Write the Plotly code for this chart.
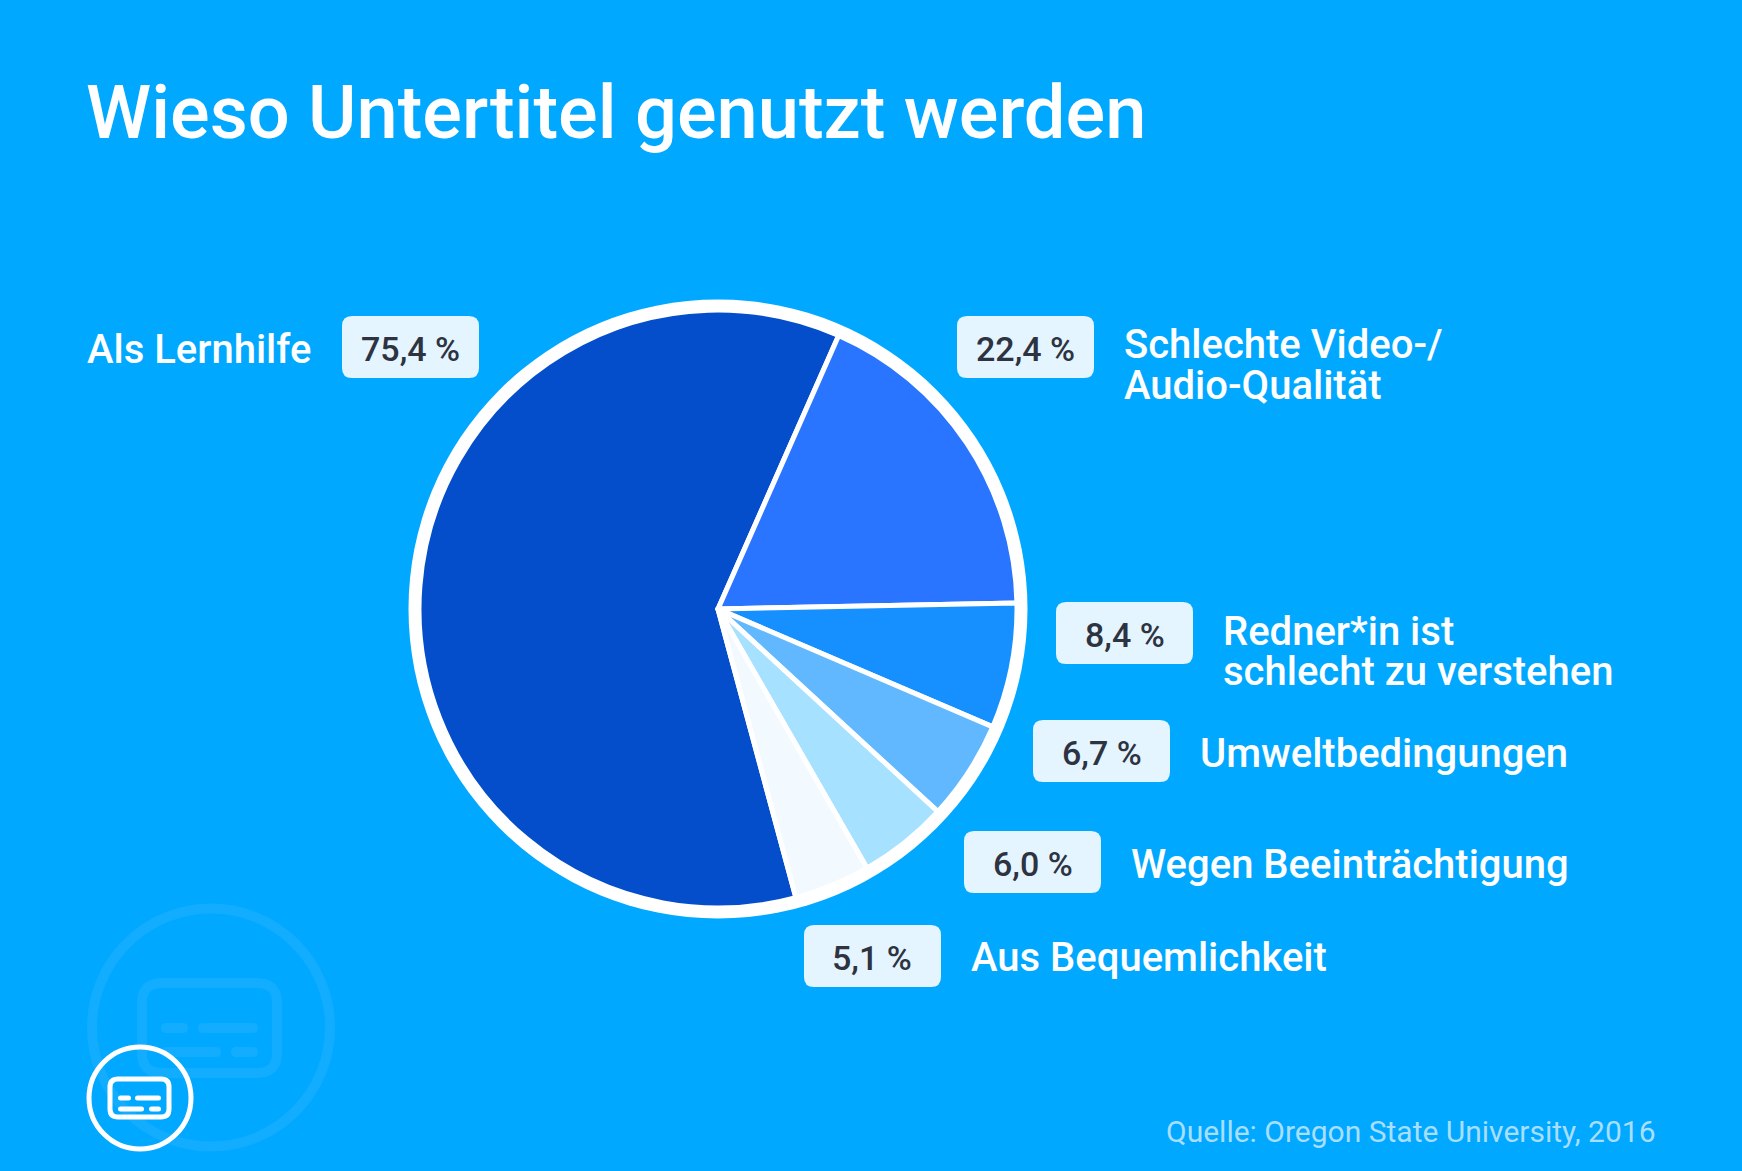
import plotly.graph_objects as go

W = 1742
H = 1171

# data
categories = [
    "Als Lernhilfe",
    "Schlechte Video-/ Audio-Qualität",
    "Redner*in ist schlecht zu verstehen",
    "Umweltbedingungen",
    "Wegen Beeinträchtigung",
    "Aus Bequemlichkeit",
]
values = [75.4, 22.4, 8.4, 6.7, 6.0, 5.1]
value_labels = ["75,4 %", "22,4 %", "8,4 %", "6,7 %", "6,0 %", "5,1 %"]
label_lines = [
    ["Als Lernhilfe"],
    ["Schlechte Video-/", "Audio-Qualität"],
    ["Redner*in ist", "schlecht zu verstehen"],
    ["Umweltbedingungen"],
    ["Wegen Beeinträchtigung"],
    ["Aus Bequemlichkeit"],
]
slice_colors = ["#044ECB", "#2975FF", "#1790FF", "#62B8FF", "#A6E1FF", "#F2FAFF"]

title = "Wieso Untertitel genutzt werden"
source = "Quelle: Oregon State University, 2016"

BG = "#00A8FF"
BOX = "#E5F5FF"
DARK = "#2D3340"
GHOST = "#12ADFF"

# layout in page pixels
CX, CY = 718, 609
R_RING = 309.5
R_PIE = 299
BOX_W, BOX_H = 137, 62
box_left = [342, 957, 1056, 1033, 964, 804]
box_top = [316, 316, 602, 720, 831, 925]
label_left = [86, 1123, 1222, 1199, 1130, 970]
label_y = [[349.5], [345, 385.5], [631.5, 671.5], [753.5], [864.5], [957]]


def px(x):
    return x / W


def py(y):
    return 1 - y / H


def rounded_path(x0, y0, x1, y1, r):
    pts = [
        f"M {px(x0 + r)} {py(y0)}",
        f"L {px(x1 - r)} {py(y0)}",
        f"Q {px(x1)} {py(y0)} {px(x1)} {py(y0 + r)}",
        f"L {px(x1)} {py(y1 - r)}",
        f"Q {px(x1)} {py(y1)} {px(x1 - r)} {py(y1)}",
        f"L {px(x0 + r)} {py(y1)}",
        f"Q {px(x0)} {py(y1)} {px(x0)} {py(y1 - r)}",
        f"L {px(x0)} {py(y0 + r)}",
        f"Q {px(x0)} {py(y0)} {px(x0 + r)} {py(y0)}",
        "Z",
    ]
    return " ".join(pts)


def rounded_box(x0, y0, x1, y1, r, fill=None, line=None, width=0):
    return dict(
        type="path",
        xref="paper",
        yref="paper",
        path=rounded_path(x0, y0, x1, y1, r),
        fillcolor=fill if fill else "rgba(0,0,0,0)",
        line=dict(color=line if line else "rgba(0,0,0,0)", width=width),
        layer="below",
    )


def circle(cx, cy, r, fill=None, line=None, width=0):
    return dict(
        type="circle",
        xref="paper",
        yref="paper",
        x0=px(cx - r),
        x1=px(cx + r),
        y0=py(cy + r),
        y1=py(cy - r),
        fillcolor=fill if fill else "rgba(0,0,0,0)",
        line=dict(color=line if line else "rgba(0,0,0,0)", width=width),
        layer="below",
    )


def caption_icon(cx, cy, r, ring, card, card_r, rows, dash, color):
    # ring, rounded card and the two rows of caption dashes
    out = [
        circle(cx, cy, r - ring / 2, line=color, width=ring),
        rounded_box(*card, card_r, line=color, width=ring),
    ]
    for y, x0, x1 in rows:
        out.append(
            rounded_box(x0, y - dash / 2, x1, y + dash / 2, dash / 2, fill=color)
        )
    return out


shapes = []
shapes += caption_icon(
    211,
    1027.5,
    124,
    10,
    (142, 983, 277, 1073),
    20,
    [
        (1028, 161, 188),
        (1028, 198, 258),
        (1052, 161, 221),
        (1052, 231, 258),
    ],
    10,
    GHOST,
)
shapes += caption_icon(
    140,
    1098,
    53.5,
    5,
    (110, 1079, 169, 1117),
    8,
    [
        (1098, 118, 131),
        (1098, 135, 161),
        (1109, 118, 144),
        (1109, 149, 161),
    ],
    5,
    "white",
)
shapes.append(circle(CX, CY, R_RING, fill="white"))
for x, y in zip(box_left, box_top):
    shapes.append(rounded_box(x, y, x + BOX_W, y + BOX_H, 10, fill=BOX))

annotations = [
    dict(
        text=title,
        x=px(85),
        y=py(112),
        font=dict(family="Roboto", size=74, color="white", weight=500),
    ),
    dict(
        text=source,
        x=px(1165),
        y=py(1131.5),
        font=dict(family="Roboto", size=30, color="#A8DEFF"),
    ),
]
for label, left, top in zip(value_labels, box_left, box_top):
    annotations.append(
        dict(
            text=label,
            x=px(left + BOX_W / 2),
            y=py(top + BOX_H / 2 + 2),
            xanchor="center",
            font=dict(family="Roboto", size=34, color=DARK, weight=500),
        )
    )
for lines, left, ys in zip(label_lines, label_left, label_y):
    for line, y in zip(lines, ys):
        annotations.append(
            dict(
                text=line,
                x=px(left),
                y=py(y),
                font=dict(family="Roboto", size=40, color="white", weight=500),
            )
        )
for a in annotations:
    a.update(xref="paper", yref="paper", showarrow=False, yanchor="middle", borderpad=0)
    a.setdefault("xanchor", "left")

fig = go.Figure(
    go.Pie(
        labels=categories,
        values=values,
        sort=False,
        direction="clockwise",
        rotation=164.9,
        textinfo="none",
        hoverinfo="label+value",
        marker=dict(colors=slice_colors, line=dict(color="white", width=5)),
        domain=dict(
            x=[px(CX - R_PIE), px(CX + R_PIE)],
            y=[py(CY + R_PIE), py(CY - R_PIE)],
        ),
        showlegend=False,
    )
)
fig.update_layout(
    width=W,
    height=H,
    margin=dict(l=0, r=0, t=0, b=0),
    paper_bgcolor=BG,
    plot_bgcolor=BG,
    shapes=shapes,
    annotations=annotations,
)
fig.write_html(
    "out.html",
    config=dict(displayModeBar=False),
    post_script="document.body.style.margin='0';document.body.style.overflow='hidden';",
)
